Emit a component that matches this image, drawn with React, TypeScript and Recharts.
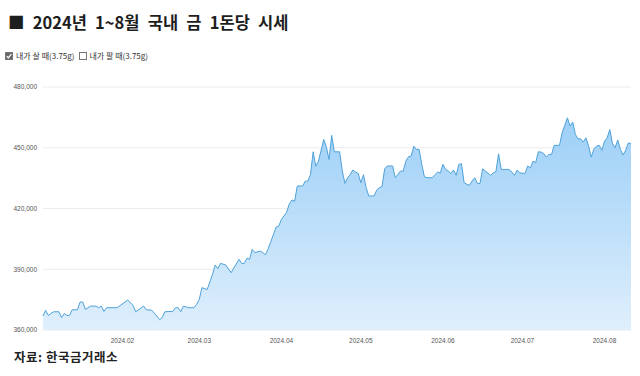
import React from 'react';
import { AreaChart, Area, XAxis, YAxis, CartesianGrid } from 'recharts';

// day of year 2024 (Jan 1 = 0) and price per 1돈 (3.75g), won
const days = [
  1, 2, 3, 4, 5, 7, 8, 9, 10, 11, 12, 14, 15, 16, 17, 19, 21, 22, 23, 24, 25, 29, 33, 35, 36, 39, 40,
  42, 44, 45, 46, 47, 50, 51, 52, 53, 54, 56, 58, 59, 60, 61, 63, 65, 66, 67, 68, 70, 72, 75, 76, 77,
  78, 79, 80, 81, 83, 84, 85, 86, 87, 89, 90, 91, 93, 94, 95, 96, 97, 99, 100, 101, 102, 103, 104, 105,
  107, 108, 109, 110, 111, 113, 114, 115, 116, 117, 118, 119, 120, 121, 122, 123, 124, 126, 127, 128,
  129, 130, 131, 133, 134, 136, 137, 138, 139, 140, 141, 142, 143, 144, 145, 146, 148, 149, 150, 151,
  152, 153, 154, 155, 156, 157, 158, 159, 160, 162, 163, 164, 165, 166, 167, 168, 170, 171, 172, 173,
  174, 177, 178, 179, 180, 181, 183, 184, 185, 186, 187, 188, 189, 190, 191, 192, 193, 194, 196, 197,
  199, 200, 201, 202, 203, 204, 205, 206, 207, 208, 209, 210, 211, 212, 213, 214, 215, 216, 217, 218,
  219, 220, 221, 222, 223,
];

const prices = [
  366900, 369700, 367200, 368200, 369000, 369000, 366100, 368100, 367200, 367200, 370000, 370000, 373800,
  373800, 370200, 371800, 371800, 371000, 371800, 369200, 371000, 371000, 374800, 372200, 369000, 371800,
  370000, 369800, 366900, 365100, 366100, 369000, 369200, 371000, 371000, 369000, 371800, 371000, 371000,
  372700, 375100, 380900, 380000, 387500, 392100, 390300, 392900, 392100, 388300, 394900, 392900, 392900,
  395500, 394900, 399800, 398200, 399000, 398200, 397200, 400100, 403600, 410800, 411300, 414600, 418200,
  422300, 424200, 423600, 431100, 431100, 433500, 433500, 436800, 448000, 440900, 443400, 454100, 450300,
  444200, 456100, 448000, 448000, 438500, 432400, 435200, 436800, 439000, 438000, 437300, 432700, 436700,
  430300, 426200, 426200, 429100, 430300, 430800, 439600, 441000, 441000, 435200, 438500, 438500, 443400,
  445600, 445900, 450800, 449200, 449200, 441800, 435700, 435200, 435200, 436700, 438000, 437600, 441800,
  439300, 438500, 437300, 439000, 436400, 441800, 442100, 432700, 431400, 433600, 435200, 432400, 432400,
  439600, 438500, 436400, 437600, 438200, 447000, 439300, 439300, 438000, 436400, 439000, 437600, 437300,
  441000, 440100, 443400, 442600, 448000, 447900, 447200, 445400, 446700, 446700, 451200, 451200, 457400,
  464800, 460700, 462700, 456600, 454400, 454400, 452800, 454900, 450800, 445400, 449500, 450800, 451200,
  448700, 453300, 454900, 459000, 452100, 450000, 453800, 449200, 446400, 448800, 452400, 452000,
];

const monthTicks = [31, 60, 91, 121, 152, 182, 213];
const monthLabels = ['2024.02', '2024.03', '2024.04', '2024.05', '2024.06', '2024.07', '2024.08'];
const priceTicks = [360000, 390000, 420000, 450000, 480000];
const legendItems = [
  { label: '내가 살 때(3.75g)', checked: true },
  { label: '내가 팔 때(3.75g)', checked: false },
];

const data = days.map((d, i) => ({ day: d, buy: prices[i] }));

const fmtMonth = (v: number) => monthLabels[monthTicks.indexOf(v)] ?? '';
const fmtPrice = (v: number) => v.toLocaleString('en-US');

const KR = '"Noto Sans CJK KR", "Noto Sans", sans-serif';
const tickStyle = { fontSize: 6.5, fill: '#555', fontFamily: '"Liberation Sans", Arial, sans-serif' };

const Box = ({ checked }: { checked: boolean }) => (
  <svg width={8} height={8} style={{ marginRight: 3, verticalAlign: '-1px' }}>
    <rect x={0.5} y={0.5} width={7} height={7} fill={checked ? '#666' : '#fff'} stroke="#777" />
    {checked && <path d="M1.8 4.2 L3.4 5.8 L6.3 2.2" fill="none" stroke="#fff" strokeWidth={1.3} />}
  </svg>
);

const TopLegend = () => (
  <div style={{ display: 'flex', gap: 4, fontFamily: KR, fontSize: 8, color: '#333', paddingLeft: 5 }}>
    {legendItems.map((it) => (
      <span key={it.label}>
        <Box checked={it.checked} />
        {it.label}
      </span>
    ))}
  </div>
);

export default function App() {
  return (
    <div style={{ position: 'fixed', left: 0, top: 0, width: 640, height: 376, background: '#fff', overflow: 'hidden' }}>
      <div
        style={{
          position: 'absolute', left: 8, top: 10, fontFamily: KR, fontWeight: 700, fontSize: 16.5,
          color: '#1e1e1e', wordSpacing: 4.5, whiteSpace: 'nowrap',
        }}
      >
        ■ 2024년 1~8월 국내 금 1돈당 시세
      </div>
      <div style={{ position: 'absolute', left: 0, top: 50 }}>
        <TopLegend />
      </div>
      <div style={{ position: 'absolute', left: 0, top: 70 }}>
        <AreaChart width={640} height={280} data={data} margin={{ top: 17, right: 9, bottom: 5, left: 0 }}>
          <defs>
            <linearGradient id="goldFill" x1="0" y1="0" x2="0" y2="1">
              <stop offset="0%" stopColor="#9ccff7" />
              <stop offset="100%" stopColor="#dfeffc" />
            </linearGradient>
          </defs>
          <CartesianGrid vertical={false} stroke="#ececec" />
          <XAxis
            dataKey="day"
            type="number"
            domain={['dataMin', 'dataMax']}
            ticks={monthTicks}
            tickFormatter={fmtMonth}
            axisLine={false}
            tickLine={false}
            tickSize={0}
            tickMargin={8}
            height={15}
            tick={tickStyle}
          />
          <YAxis
            domain={[360000, 480000]}
            ticks={priceTicks}
            tickFormatter={fmtPrice}
            axisLine={false}
            tickLine={false}
            tickSize={0}
            tickMargin={6}
            width={43}
            tick={tickStyle}
          />
          <Area
            type="linear"
            dataKey="buy"
            stroke="#4fa2da"
            strokeWidth={1}
            fill="url(#goldFill)"
            fillOpacity={1}
            dot={false}
            activeDot={false}
            isAnimationActive={false}
          />
        </AreaChart>
      </div>
      <div
        style={{
          position: 'absolute', left: 14, top: 347, fontFamily: KR, fontWeight: 700, fontSize: 12.5,
          letterSpacing: 0.5, color: '#222',
        }}
      >
        자료: 한국금거래소
      </div>
    </div>
  );
}
